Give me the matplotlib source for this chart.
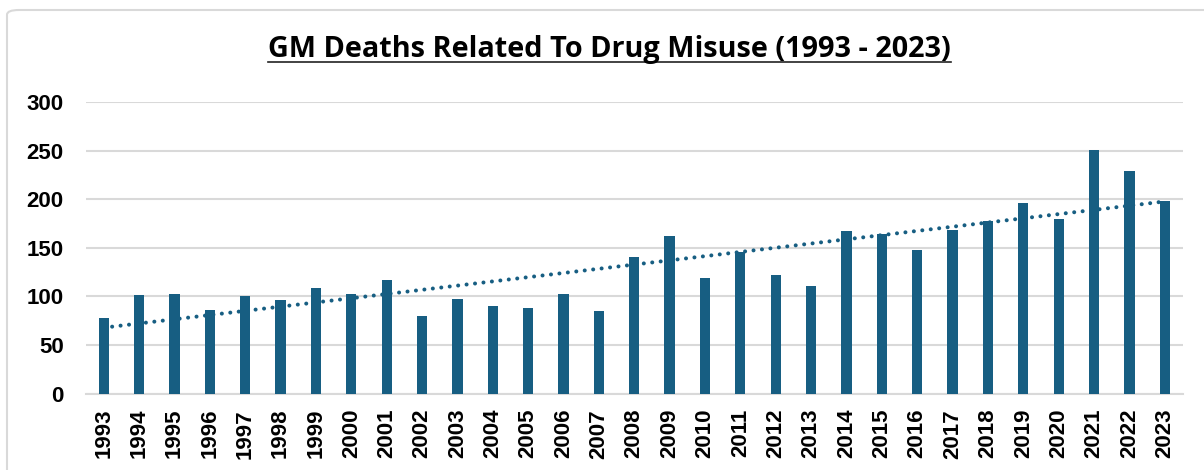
import matplotlib.pyplot as plt
import numpy as np
from matplotlib.lines import Line2D
from matplotlib.patches import FancyBboxPatch

years = [str(y) for y in range(1993, 2024)]
deaths = [78, 102, 103, 86, 100, 96, 109, 103, 117, 80,
          97, 90, 88, 103, 85, 141, 162, 119, 146, 122,
          111, 167, 164, 148, 168, 178, 196, 180, 251, 229, 198]
yticks = [0, 50, 100, 150, 200, 250, 300]

title = "GM Deaths Related To Drug Misuse (1993 - 2023)"
bar_color = "#175e82"
grid_color = "#d9d9d9"


def main():
	fig = plt.figure(figsize=(12.04, 4.70), dpi=100)
	W, H = 1204, 470

	# outer chart frame (cut off at right/bottom)
	frame = FancyBboxPatch((7 / W, -0.05), 1.2, 1 - 10 / H + 0.05,
		boxstyle="round,pad=0,rounding_size=0.01", transform=fig.transFigure,
		fill=False, edgecolor=grid_color, linewidth=1.5)
	fig.patches.append(frame)

	ax = fig.add_axes([86 / W, (H - 393.7) / H, (1182.5 - 86) / W, (393.7 - 102) / H])
	x = np.arange(len(years))
	ax.bar(x, deaths, width=0.29, color=bar_color, zorder=3)

	# linear trendline
	k, b = np.polyfit(x, deaths, 1)
	ax.plot(x, k * x + b, linestyle=(0, (0.01, 2.1)), dash_capstyle="round",
		color=bar_color, linewidth=2.9, zorder=4)

	ax.set_xlim(-0.5, len(years) - 0.5)
	ax.set_ylim(0, 300)
	ax.set_yticks(yticks)
	ax.set_xticks(x)
	ax.set_xticklabels(years, rotation=90)
	ax.tick_params(length=0)
	ax.tick_params(axis="x", pad=11)
	ax.tick_params(axis="y", pad=16)
	for lab in ax.get_xticklabels() + ax.get_yticklabels():
		lab.set_fontfamily("Liberation Sans")
		lab.set_fontweight("bold")
		lab.set_fontsize(16)
	ax.grid(True, axis="y", color=grid_color, linewidth=1.5, zorder=0)
	ax.set_axisbelow(True)
	for s in ["top", "right", "left"]:
		ax.spines[s].set_visible(False)
	ax.spines["bottom"].set_color(grid_color)
	ax.spines["bottom"].set_linewidth(1.5)

	t = fig.text(609.5 / W, 1 - 57 / H, title, ha="center", va="baseline",
		fontsize=20.8, fontweight="bold", fontfamily="Open Sans")
	fig.canvas.draw()
	bb = t.get_window_extent().transformed(fig.transFigure.inverted())
	yl = 1 - 62 / H
	fig.lines.append(Line2D([bb.x0, bb.x1], [yl, yl], transform=fig.transFigure,
		color="#222222", linewidth=1.2))

	fig.savefig("out.png", dpi=100)


if __name__ == "__main__":
	main()
